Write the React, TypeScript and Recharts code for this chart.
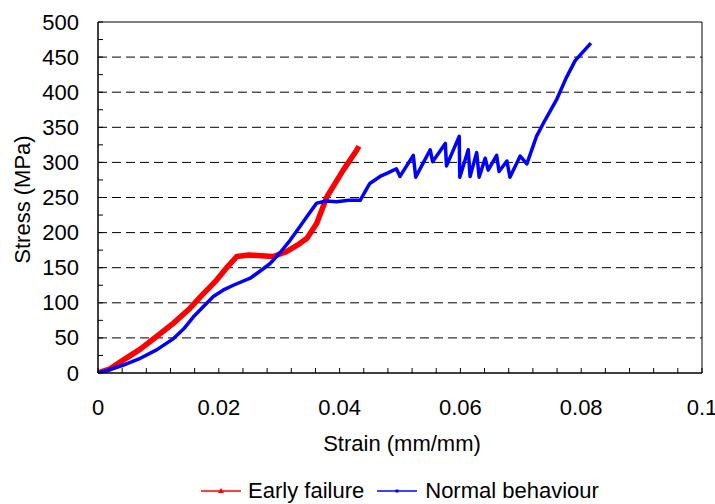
import React from "react";
import { LineChart, Line, XAxis, YAxis, ReferenceLine, ReferenceArea, Legend } from "recharts";

// Early failure series (strain mm/mm, stress MPa)
const earlyStrain = [0, 0.002, 0.0041, 0.007, 0.0097, 0.0125, 0.0152, 0.0169, 0.0196, 0.0215, 0.023, 0.025, 0.027, 0.029, 0.0312, 0.033, 0.0346, 0.0362, 0.0379, 0.0406, 0.0428, 0.0432];
const earlyStress = [0, 6, 18, 34, 52, 71, 92, 108, 132, 152, 166, 168, 167, 166, 173, 182, 192, 213, 251, 289, 317, 323];

// Normal behaviour series
const normalStrain = [0, 0.002, 0.0041, 0.007, 0.0097, 0.0125, 0.0142, 0.0158, 0.0175, 0.0191, 0.0207, 0.0224, 0.0252, 0.0268, 0.0285, 0.0302, 0.0318, 0.0332, 0.0346, 0.0362, 0.0378, 0.0395, 0.0415, 0.0434, 0.0442, 0.045, 0.0467, 0.048, 0.0494, 0.05, 0.0522, 0.0526, 0.055, 0.0554, 0.0575, 0.0577, 0.0598, 0.0599, 0.0613, 0.0616, 0.0627, 0.0631, 0.0641, 0.0646, 0.066, 0.0664, 0.0677, 0.0682, 0.0699, 0.071, 0.0726, 0.074, 0.0759, 0.0775, 0.079, 0.0816];
const normalStress = [0, 5, 11, 21, 33, 49, 63, 80, 95, 109, 118, 125, 135, 145, 156, 172, 189, 206, 223, 242, 245, 244, 246, 246, 258, 270, 280, 285, 291, 280, 310, 279, 318, 301, 327, 295, 337, 279, 318, 280, 314, 279, 306, 289, 310, 287, 302, 279, 309, 298, 337, 360, 389, 420, 445, 470];

const xTicks = [0, 0.004, 0.008, 0.012, 0.016, 0.02, 0.024, 0.028, 0.032, 0.036, 0.04, 0.044, 0.048, 0.052, 0.056, 0.06, 0.064, 0.068, 0.072, 0.076, 0.08, 0.084, 0.088, 0.092, 0.096, 0.1];
const xLabels = ["0", "0.02", "0.04", "0.06", "0.08", "0.1"];
const yTicks = [0, 25, 50, 75, 100, 125, 150, 175, 200, 225, 250, 275, 300, 325, 350, 375, 400, 425, 450, 475, 500];
const yLabels = ["0", "50", "100", "150", "200", "250", "300", "350", "400", "450", "500"];
const gridValues = [50, 100, 150, 200, 250, 300, 350, 400, 450];

const seriesNames = ["Early failure", "Normal behaviour"];

const early = earlyStrain.map((x, i) => ({ x, y: earlyStress[i] }));
const normal = normalStrain.map((x, i) => ({ x, y: normalStress[i] }));

const FONT = "'Liberation Sans', Arial, sans-serif";
const FS = 22;

const fmtX = (v: number) => {
  const r = Math.round(v * 1000) / 1000;
  return String(r);
};

const XTick = (props: any) => {
  const { x, y, payload } = props;
  const label = fmtX(payload.value);
  const show = xLabels.includes(label);
  return (
    <g>
      <line x1={x} y1={y} x2={x} y2={y - 5} stroke="#000" strokeWidth={1} />
      {show && (
        <text x={x} y={y + 34} textAnchor="middle" dominantBaseline="central" fontFamily={FONT} fontSize={FS} fill="#000">
          {label}
        </text>
      )}
    </g>
  );
};

const YTick = (props: any) => {
  const { x, y, payload } = props;
  const label = String(payload.value);
  const show = yLabels.includes(label);
  return (
    <g>
      <line x1={x} y1={y} x2={x + 5} y2={y} stroke="#000" strokeWidth={1} />
      {show && (
        <text x={x - 19} y={y} textAnchor="end" dominantBaseline="central" fontFamily={FONT} fontSize={FS} fill="#000">
          {label}
        </text>
      )}
    </g>
  );
};

const YTitle = (props: any) => {
  const vb = props.viewBox;
  const cx = vb.x + 22;
  const cy = vb.y + vb.height / 2 + 2;
  return (
    <text x={cx} y={cy} transform={`rotate(-90 ${cx} ${cy})`} textAnchor="middle" dominantBaseline="central" fontFamily={FONT} fontSize={FS} fill="#000">
      Stress (MPa)
    </text>
  );
};

const XTitle = (props: any) => {
  const vb = props.viewBox;
  const cx = vb.x + vb.width / 2 + 2;
  const cy = vb.y + 70;
  return (
    <text x={cx} y={cy} textAnchor="middle" dominantBaseline="central" fontFamily={FONT} fontSize={FS} fill="#000">
      Strain (mm/mm)
    </text>
  );
};

const LegendContent = () => (
  <div style={{ height: 26, lineHeight: "24px", display: "flex", justifyContent: "center", alignItems: "center", fontFamily: FONT, fontSize: FS, color: "#000", whiteSpace: "nowrap" }}>
    <svg width={40} height={10} style={{ marginRight: 7 }}>
      <line x1={0} y1={5} x2={40} y2={5} stroke="#ff0000" strokeWidth={1.5} />
      <polygon points="17,7 20,2 23,7" fill="#ff0000" />
    </svg>
    <span style={{ marginRight: 13 }}>{seriesNames[0]}</span>
    <svg width={40} height={10} style={{ marginRight: 8 }}>
      <line x1={0} y1={5} x2={40} y2={5} stroke="#0000ff" strokeWidth={1.5} />
      <rect x={18.5} y={3.5} width={3} height={3} fill="#0000ff" />
    </svg>
    <span>{seriesNames[1]}</span>
  </div>
);

export default function App() {
  return (
    <div style={{ position: "absolute", left: 0, top: 0, background: "#fff" }}>
      <LineChart width={715} height={504} margin={{ top: 22, right: 13, left: 0, bottom: 0 }}>
        <XAxis
          dataKey="x"
          type="number"
          domain={[0, 0.1]}
          ticks={xTicks}
          interval={0}
          tickSize={0}
          tickMargin={0}
          tickLine={false}
          tick={<XTick />}
          axisLine={{ stroke: "#000" }}
          height={105}
          label={<XTitle />}
          allowDataOverflow
        />
        <YAxis
          type="number"
          domain={[0, 500]}
          ticks={yTicks}
          interval={0}
          tickSize={0}
          tickMargin={0}
          tickLine={false}
          tick={<YTick />}
          axisLine={{ stroke: "#000" }}
          width={98}
          label={<YTitle />}
          allowDataOverflow
        />
        {gridValues.map((v) => (
          <ReferenceLine key={v} y={v} stroke="#000" strokeDasharray="9 5" strokeWidth={1} />
        ))}
        <ReferenceArea x1={0} x2={0.1} y1={0} y2={500} fill="none" stroke="#000" strokeWidth={1} />
        <Legend verticalAlign="bottom" content={<LegendContent />} wrapperStyle={{ left: 98, width: 604 }} />
        <Line
          data={early}
          dataKey="y"
          name={seriesNames[0]}
          stroke="#ff0000"
          strokeWidth={5.5}
          dot={false}
          isAnimationActive={false}
          strokeLinejoin="round"
        />
        <Line
          data={normal}
          dataKey="y"
          name={seriesNames[1]}
          stroke="#0000ff"
          strokeWidth={3.5}
          dot={false}
          isAnimationActive={false}
          strokeLinejoin="round"
        />
      </LineChart>
    </div>
  );
}
